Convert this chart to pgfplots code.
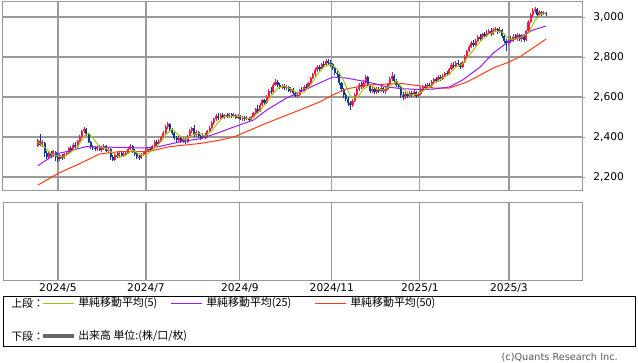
\documentclass[border=0pt]{standalone}
\usepackage{pgfplots}
\usepackage{pgfplotstable}
\pgfplotsset{compat=1.18}
\usepackage{fontspec}
\setmainfont{DejaVu Sans}
\newfontfamily\cjk{Noto Sans CJK JP}
\definecolor{upred}{HTML}{F2184A}
\definecolor{dnblue}{HTML}{0B3A96}
\definecolor{ma5c}{HTML}{99CC00}
\definecolor{ma25c}{HTML}{9A1AF0}
\definecolor{ma50c}{HTML}{FF3C10}
\definecolor{gridc}{HTML}{999999}

\pgfplotstableread{
i o h l c
0 2355 2390 2350 2385
1 2380 2415 2355 2360
2 2365 2385 2350 2375
3 2370 2375 2300 2320
4 2320 2330 2290 2300
5 2300 2325 2290 2320
6 2320 2330 2295 2305
7 2310 2335 2300 2330
8 2325 2330 2280 2300
9 2300 2320 2275 2290
10 2290 2315 2280 2310
11 2305 2315 2285 2295
12 2295 2320 2290 2315
13 2315 2330 2305 2320
14 2320 2350 2315 2345
15 2345 2355 2325 2335
16 2335 2370 2330 2360
17 2360 2375 2340 2350
18 2350 2385 2345 2380
19 2380 2410 2375 2400
20 2400 2435 2395 2430
21 2430 2450 2420 2440
22 2440 2445 2405 2415
23 2415 2420 2370 2375
24 2375 2380 2340 2350
25 2350 2360 2335 2345
26 2345 2355 2330 2340
27 2340 2355 2330 2350
28 2350 2360 2330 2335
29 2335 2355 2325 2345
30 2345 2365 2335 2355
31 2355 2360 2325 2330
32 2330 2350 2320 2340
33 2340 2345 2285 2300
34 2300 2310 2280 2285
35 2285 2320 2280 2310
36 2310 2325 2295 2300
37 2300 2325 2295 2320
38 2320 2330 2300 2305
39 2305 2325 2300 2315
40 2315 2330 2305 2320
41 2320 2345 2315 2340
42 2340 2365 2335 2355
43 2355 2360 2320 2330
44 2330 2340 2305 2315
45 2315 2325 2290 2300
46 2300 2310 2285 2295
47 2295 2320 2290 2310
48 2310 2330 2305 2325
49 2325 2340 2315 2330
50 2330 2350 2325 2340
51 2340 2350 2325 2335
52 2335 2360 2330 2355
53 2355 2385 2350 2375
54 2375 2385 2355 2365
55 2365 2390 2360 2380
56 2380 2405 2375 2400
57 2400 2430 2395 2420
58 2420 2460 2415 2450
59 2450 2475 2440 2465
60 2465 2470 2430 2440
61 2440 2445 2410 2420
62 2420 2425 2385 2395
63 2395 2405 2375 2385
64 2385 2405 2375 2395
65 2395 2400 2370 2380
66 2380 2400 2370 2390
67 2390 2395 2365 2375
68 2375 2410 2370 2400
69 2400 2440 2395 2430
70 2430 2450 2420 2445
71 2445 2460 2400 2410
72 2410 2435 2400 2425
73 2425 2430 2395 2405
74 2405 2410 2385 2395
75 2395 2420 2390 2410
76 2410 2420 2390 2400
77 2400 2435 2395 2430
78 2430 2455 2425 2445
79 2445 2480 2440 2470
80 2470 2495 2460 2490
81 2490 2515 2480 2505
82 2505 2520 2485 2495
83 2495 2520 2490 2510
84 2510 2520 2495 2500
85 2500 2515 2490 2510
86 2510 2520 2495 2500
87 2500 2520 2495 2515
88 2515 2520 2495 2505
89 2505 2520 2500 2510
90 2510 2515 2490 2495
91 2495 2515 2490 2505
92 2505 2510 2485 2490
93 2490 2505 2480 2500
94 2500 2505 2480 2490
95 2490 2505 2485 2495
96 2495 2500 2480 2485
97 2485 2505 2480 2500
98 2500 2525 2495 2520
99 2520 2545 2515 2540
100 2540 2560 2520 2530
101 2530 2570 2525 2560
102 2560 2590 2555 2585
103 2585 2590 2560 2570
104 2570 2610 2565 2600
105 2600 2640 2595 2630
106 2630 2650 2615 2625
107 2625 2670 2620 2660
108 2660 2690 2655 2675
109 2675 2685 2650 2660
110 2660 2670 2640 2650
111 2650 2665 2640 2655
112 2655 2665 2635 2645
113 2645 2660 2635 2650
114 2650 2655 2625 2630
115 2630 2650 2620 2640
116 2640 2645 2610 2620
117 2620 2625 2600 2605
118 2605 2620 2595 2610
119 2610 2640 2605 2635
120 2635 2650 2620 2630
121 2630 2660 2625 2650
122 2650 2665 2635 2645
123 2645 2675 2640 2670
124 2670 2700 2665 2695
125 2695 2720 2690 2715
126 2715 2745 2705 2735
127 2735 2760 2725 2750
128 2750 2760 2730 2740
129 2740 2770 2735 2765
130 2765 2780 2750 2760
131 2760 2790 2755 2780
132 2780 2790 2760 2770
133 2770 2785 2750 2765
134 2765 2770 2735 2745
135 2745 2750 2710 2720
136 2720 2730 2700 2715
137 2715 2720 2660 2670
138 2670 2675 2625 2640
139 2640 2645 2595 2610
140 2610 2620 2580 2590
141 2590 2600 2555 2570
142 2570 2580 2535 2560
143 2560 2590 2550 2580
144 2580 2620 2575 2610
145 2610 2650 2605 2640
146 2640 2670 2630 2660
147 2660 2675 2640 2650
148 2650 2685 2645 2670
149 2670 2710 2665 2700
150 2700 2705 2650 2660
151 2660 2665 2620 2630
152 2630 2655 2620 2640
153 2640 2650 2615 2625
154 2625 2650 2615 2640
155 2640 2650 2620 2630
156 2630 2655 2625 2645
157 2645 2650 2620 2630
158 2630 2650 2615 2640
159 2640 2670 2635 2665
160 2665 2700 2660 2690
161 2690 2725 2680 2705
162 2705 2715 2670 2680
163 2680 2690 2650 2660
164 2660 2670 2640 2650
165 2650 2655 2595 2610
166 2610 2625 2585 2600
167 2600 2625 2590 2615
168 2615 2625 2595 2605
169 2605 2630 2600 2620
170 2620 2630 2600 2610
171 2610 2635 2600 2625
172 2625 2630 2595 2605
173 2605 2625 2600 2615
174 2615 2650 2610 2640
175 2640 2660 2630 2650
176 2650 2665 2635 2645
177 2645 2670 2640 2660
178 2660 2670 2645 2655
179 2655 2685 2650 2675
180 2675 2695 2665 2690
181 2690 2700 2670 2680
182 2680 2710 2675 2700
183 2700 2710 2680 2690
184 2690 2715 2685 2705
185 2705 2725 2700 2720
186 2720 2730 2705 2715
187 2715 2745 2710 2740
188 2740 2770 2735 2760
189 2760 2775 2745 2755
190 2755 2780 2750 2770
191 2770 2785 2755 2765
192 2765 2770 2740 2750
193 2750 2780 2745 2775
194 2775 2810 2770 2800
195 2800 2835 2795 2830
196 2830 2860 2825 2850
197 2850 2880 2845 2870
198 2870 2885 2850 2860
199 2860 2890 2855 2880
200 2880 2910 2875 2900
201 2900 2915 2880 2890
202 2890 2920 2885 2915
203 2915 2925 2895 2905
204 2905 2935 2900 2920
205 2920 2940 2915 2930
206 2930 2945 2905 2915
207 2915 2945 2910 2935
208 2935 2950 2925 2940
209 2940 2945 2915 2925
210 2925 2950 2920 2935
211 2935 2940 2895 2905
212 2905 2910 2870 2880
213 2880 2890 2830 2870
214 2870 2900 2860 2890
215 2890 2905 2870 2880
216 2880 2915 2875 2900
217 2900 2915 2885 2895
218 2895 2920 2880 2910
219 2910 2915 2880 2890
220 2890 2915 2875 2905
221 2905 2910 2875 2885
222 2885 2935 2880 2930
223 2930 2985 2925 2975
224 2975 3020 2970 3010
225 3010 3045 3000 3030
226 3030 3050 3020 3040
227 3040 3045 3000 3010
228 3010 3035 3005 3025
229 3025 3030 3005 3015
230 3015 3030 3010 3020
231 3020 3025 3005 3015
}\candles

\begin{document}
\begin{tikzpicture}
\useasboundingbox (0,0) rectangle (478.5pt,271.5pt);
\begin{axis}[
  at={(2.25pt,129pt)}, anchor=south west, scale only axis,
  width=434.25pt, height=141.75pt,
  xmin=-15.9, xmax=247.3, ymin=2135, ymax=3080,
  axis line style={gridc, line width=0.75pt},
  xtick={9.1,49.1,91.8,133.6,173.6,214.1}, xticklabels={},
  x tick style={draw=none},
  ytick={2200,2400,2600,2800,3000},
  ytick pos=right, yticklabel pos=right,
  tick align=outside, major tick length=2.5pt,
  y tick style={gridc, line width=0.75pt},
  grid=major, grid style={gridc, line width=0.8pt},
  tick label style={font=\fontsize{8}{9}\selectfont},
  /pgf/number format/assume math mode=true,
  /pgf/number format/1000 sep={,},
  yticklabel style={xshift=2.5pt},
]
% candle wicks
\addplot[upred, line width=0.75pt, mark=none, forget plot,
  quiver={u=0, v={(\thisrow{c}>=\thisrow{o})*(\thisrow{h}-\thisrow{l})}}]
  table[x=i, y=l] {\candles};
\addplot[dnblue, line width=0.75pt, mark=none, forget plot,
  quiver={u=0, v={(\thisrow{c}<\thisrow{o})*(\thisrow{h}-\thisrow{l})}}]
  table[x=i, y=l] {\candles};
% candle bodies
\addplot[upred, line width=1.6pt, mark=none, forget plot,
  quiver={u=0, v={(\thisrow{c}>\thisrow{o})*(\thisrow{c}-\thisrow{o})}}]
  table[x=i, y=o] {\candles};
\addplot[dnblue, line width=1.6pt, mark=none, forget plot,
  quiver={u=0, v={(\thisrow{c}<\thisrow{o})*(\thisrow{o}-\thisrow{c})}}]
  table[x=i, y=c] {\candles};
% MA50
\addplot[ma50c, line width=0.75pt, mark=none] coordinates {
(0,2160) (9,2217) (19,2267) (28,2315) (37,2327) (50,2327) (60,2352) (74,2368)
(83,2385) (89,2400) (104,2470) (119,2535) (128,2575) (134,2610) (140,2640)
(150,2660) (159,2665) (165,2668) (174,2655) (180,2645) (187,2645) (195,2675)
(207,2745) (213,2770) (219,2800) (225,2845) (231,2890)};
% MA25
\addplot[ma25c, line width=0.75pt, mark=none] coordinates {
(0,2257) (8,2315) (13,2327) (22,2352) (48,2345) (55,2352) (65,2377) (74,2392)
(83,2425) (89,2450) (98,2485) (104,2535) (113,2595) (119,2625) (128,2670)
(134,2700) (140,2695) (150,2675) (159,2650) (165,2642) (174,2637) (180,2640)
(187,2650) (193,2685) (201,2750) (207,2820) (213,2870) (219,2900) (225,2935) (231,2955)};
% MA5
\addplot[ma5c, line width=0.75pt, mark=none] coordinates {
(0,2375) (3,2350) (6,2315) (9,2305) (12,2300) (15,2325) (18,2350) (21,2405)
(23,2420) (25,2395) (28,2350) (31,2343) (34,2320) (37,2300) (40,2310) (43,2335)
(46,2315) (49,2310) (52,2335) (55,2365) (58,2410) (61,2440) (64,2410) (67,2385)
(70,2410) (73,2420) (76,2405) (79,2430) (82,2475) (85,2505) (88,2505) (91,2505)
(94,2495) (97,2492) (100,2520) (103,2560) (106,2605) (109,2645) (112,2655)
(115,2640) (118,2620) (121,2625) (124,2660) (127,2715) (130,2750) (133,2765)
(136,2740) (139,2680) (142,2605) (145,2595) (148,2640) (151,2660) (154,2640)
(157,2635) (160,2655) (163,2680) (166,2640) (169,2610) (172,2612) (175,2630)
(178,2650) (181,2675) (184,2695) (187,2715) (190,2750) (193,2765) (196,2810)
(199,2850) (202,2890) (205,2915) (208,2930) (211,2925) (214,2890) (217,2890)
(220,2900) (223,2920) (226,2985) (229,3020) (231,3020)};
\end{axis}
\begin{axis}[
  at={(2.25pt,61.5pt)}, anchor=south west, scale only axis,
  width=434.25pt, height=58.5pt,
  xmin=-15.9, xmax=247.3, ymin=0, ymax=1,
  axis line style={gridc, line width=0.75pt},
  xtick={9.1,49.1,91.8,133.6,173.6,214.1},
  xticklabels={2024/5,2024/7,2024/9,2024/11,2025/1,2025/3},
  x tick style={draw=none}, ytick=\empty,
  xmajorgrids, grid style={gridc, line width=0.8pt},
  tick label style={font=\fontsize{8}{9}\selectfont},
  xticklabel style={yshift=1pt},
]
\addplot[draw=none, mark=none] coordinates {(0,0.5)};
\end{axis}
% legend
\begin{scope}[x=0.75pt, y=0.75pt]
\draw[black, line width=0.75pt] (3.5,66) rectangle (635,16);
\node[anchor=west, inner sep=0] at (11,59) {\cjk\fontsize{8.2}{9}\selectfont 上段：};
\draw[ma5c, line width=0.75pt] (43,59) -- (74,59);
\node[anchor=west, inner sep=0] at (78,59) {\cjk\fontsize{8.2}{9}\selectfont 単純移動平均(5)};
\draw[ma25c, line width=0.75pt] (171,59) -- (202,59);
\node[anchor=west, inner sep=0] at (206,59) {\cjk\fontsize{8.2}{9}\selectfont 単純移動平均(25)};
\draw[ma50c, line width=0.75pt] (315,59) -- (346,59);
\node[anchor=west, inner sep=0] at (350,59) {\cjk\fontsize{8.2}{9}\selectfont 単純移動平均(50)};
\node[anchor=west, inner sep=0] at (11,26) {\cjk\fontsize{8.2}{9}\selectfont 下段：};
\draw[black!60, line width=2.4pt] (43,26) -- (74,26);
\node[anchor=west, inner sep=0] at (78,26) {\cjk\fontsize{8.2}{9}\selectfont 出来高 単位:(株/口/枚)};
\node[anchor=east, inner sep=0, text=black!65] at (618,5) {\fontsize{7.3}{8}\selectfont (c)Quants Research Inc.};
\end{scope}
\end{tikzpicture}
\end{document}
